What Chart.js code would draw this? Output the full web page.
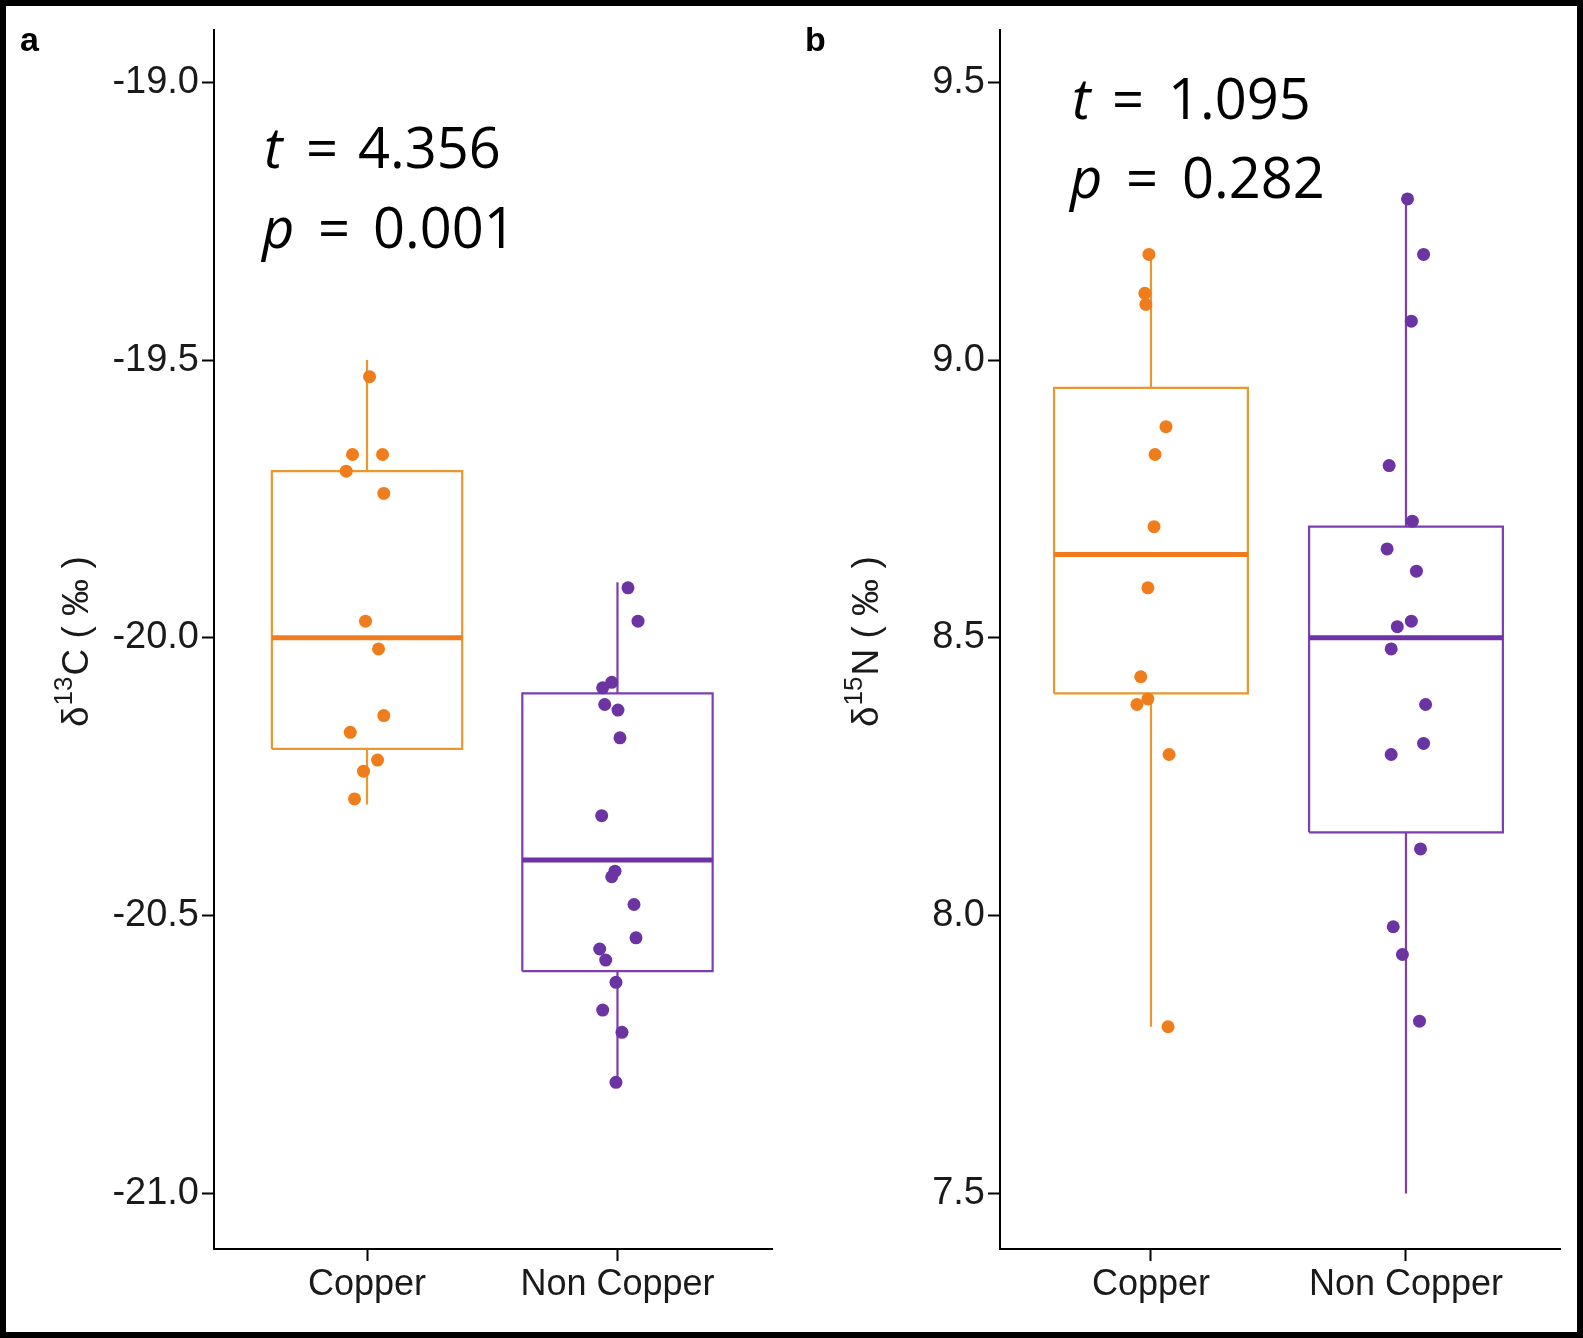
<!DOCTYPE html>
<html>
<head>
<meta charset="utf-8">
<script src="https://cdn.jsdelivr.net/npm/chart.js@4.4.1/dist/chart.umd.min.js"></script>
<style>
  html, body { margin:0; padding:0; background:#fff; }
  #wrap { position:relative; width:1583px; height:1338px; overflow:hidden; background:#fff; }
  canvas { position:absolute; top:0; }
  #frame { position:absolute; left:0; top:0; width:1583px; height:1338px; box-sizing:border-box; border:6px solid #000; pointer-events:none; }
</style>
</head>
<body>
<div id="wrap">
  <canvas id="cA" width="790" height="1338" style="left:0;width:790px;height:1338px"></canvas>
  <canvas id="cB" width="793" height="1338" style="left:790px;width:793px;height:1338px"></canvas>
  <div id="frame"></div>
</div>
<script>
// ---------- data ----------
const categories = ['Copper', 'Non Copper'];

// panel a : δ13C
const c13Ticks = [-21.0, -20.5, -20.0, -19.5, -19.0];
const c13Copper = [-19.53, -19.67, -19.67, -19.70, -19.74, -19.97, -20.02, -20.14, -20.17, -20.22, -20.24, -20.29];
const c13CopperJitter = [0.010, -0.058, 0.062, -0.083, 0.067, -0.006, 0.046, 0.067, -0.067, 0.042, -0.014, -0.050];
const c13NonCopper = [-19.91, -19.97, -20.08, -20.09, -20.12, -20.13, -20.18, -20.32, -20.42, -20.43, -20.48, -20.54, -20.56, -20.58, -20.62, -20.67, -20.71, -20.80];
const c13NonCopperJitter = [0.042, 0.082, -0.023, -0.059, -0.051, 0.002, 0.010, -0.063, -0.010, -0.023, 0.066, 0.074, -0.071, -0.047, -0.006, -0.059, 0.018, -0.006];
// box stats per category: [Copper, Non Copper]
const c13Min    = [-20.30, -20.80];
const c13Q1     = [-20.20, -20.60];
const c13Median = [-20.00, -20.40];
const c13Q3     = [-19.70, -20.10];
const c13Max    = [-19.50, -19.90];

// panel b : δ15N
const n15Ticks = [7.5, 8.0, 8.5, 9.0, 9.5];
const n15Copper = [9.19, 9.12, 9.10, 8.88, 8.83, 8.70, 8.59, 8.43, 8.38, 8.39, 8.29, 7.80];
const n15CopperJitter = [-0.008, -0.024, -0.020, 0.059, 0.016, 0.012, -0.012, -0.040, -0.055, -0.012, 0.071, 0.067];
const n15NonCopper = [9.29, 9.19, 9.07, 8.81, 8.71, 8.66, 8.62, 8.52, 8.53, 8.48, 8.38, 8.31, 8.29, 8.12, 7.98, 7.93, 7.81];
const n15NonCopperJitter = [0.006, 0.069, 0.021, -0.066, 0.025, -0.074, 0.041, -0.034, 0.021, -0.058, 0.077, 0.069, -0.058, 0.057, -0.050, -0.014, 0.053];
const n15Min    = [7.80, 7.50];
const n15Q1     = [8.40, 8.15];
const n15Median = [8.65, 8.50];
const n15Q3     = [8.95, 8.70];
const n15Max    = [9.19, 9.29];

// ---------- styling ----------
const boxColors   = ['#E8982C', '#7D3EAE'];
const medColors   = ['#F07C1E', '#6E32A6'];
const pointColors = ['#F07D1C', '#6C33A3'];
const HALF = 0.38;

function buildDatasets(mins, q1s, meds, q3s, maxs, pts, jits) {
  const ds = [];
  for (let i = 0; i < categories.length; i++) {
    const c = i + 1;
    ds.push({ type:'scatter', showLine:true, order:2, data:[
      {x:c-HALF,y:q1s[i]},{x:c+HALF,y:q1s[i]},{x:c+HALF,y:q3s[i]},{x:c-HALF,y:q3s[i]},{x:c-HALF,y:q1s[i]}],
      borderColor:boxColors[i], borderWidth:2.2, pointRadius:0, fill:false, tension:0 });
    ds.push({ type:'scatter', showLine:true, order:2, data:[{x:c,y:q3s[i]},{x:c,y:maxs[i]}],
      borderColor:boxColors[i], borderWidth:2.2, pointRadius:0 });
    ds.push({ type:'scatter', showLine:true, order:2, data:[{x:c,y:q1s[i]},{x:c,y:mins[i]}],
      borderColor:boxColors[i], borderWidth:2.2, pointRadius:0 });
    ds.push({ type:'scatter', showLine:true, order:1, data:[{x:c-HALF,y:meds[i]},{x:c+HALF,y:meds[i]}],
      borderColor:medColors[i], borderWidth:5, pointRadius:0 });
    ds.push({ type:'scatter', order:0, data: pts[i].map((v,k)=>({x:c+jits[i][k], y:v})),
      backgroundColor:pointColors[i], borderColor:pointColors[i], pointRadius:6.5, borderWidth:0 });
  }
  return ds;
}

const textPlugin = {
  id:'textPlugin',
  afterDraw(chart) {
    const o = chart.options.plugins.textPlugin;
    const ctx = chart.ctx;
    ctx.save();
    ctx.fillStyle = '#000';
    ctx.textBaseline = 'alphabetic';
    // panel letter
    ctx.font = 'bold 34px "Liberation Sans", Arial, sans-serif';
    ctx.textAlign = 'left';
    ctx.fillText(o.letter, o.letterX, 51);
    // stats
    const big = '56px "Open Sans", "Noto Sans", sans-serif';
    const bigI = 'italic 56px "Open Sans", "Noto Sans", sans-serif';
    o.stats.forEach(s => {
      ctx.font = bigI; ctx.fillText(s.v, s.x, s.y);
      ctx.font = big;  ctx.fillText('=', s.x + s.eq, s.y);
      ctx.fillText(s.val, s.x + s.num, s.y);
    });
    // y-axis title with superscript
    ctx.translate(o.titleX, 727);
    ctx.rotate(-Math.PI/2);
    ctx.fillStyle = '#1a1a1a';
    let x = 0;
    ctx.font = '37px "Liberation Sans", Arial, sans-serif';
    ctx.fillText('δ', x, 0); x += ctx.measureText('δ').width + 1;
    ctx.font = '26px "Liberation Sans", Arial, sans-serif';
    ctx.fillText(o.sup, x, -16); x += ctx.measureText(o.sup).width + 1;
    ctx.font = '37px "Liberation Sans", Arial, sans-serif';
    ctx.fillText(o.elem + ' ( ‰ )', x, 0);
    ctx.restore();
  }
};

function makeChart(id, ds, yMin, yMax, yTicks, xMin, xMax, yWidth, padRight, txt) {
  return new Chart(document.getElementById(id), {
    type:'scatter',
    data:{ datasets: ds },
    plugins:[textPlugin],
    options:{
      responsive:false, animation:false, devicePixelRatio:1,
      layout:{ padding:{ left:0, top:30, right:padRight, bottom:0 } },
      plugins:{ legend:{display:false}, tooltip:{enabled:false}, textPlugin: txt },
      scales:{
        x:{ type:'linear', min:xMin, max:xMax,
          afterBuildTicks(s){ s.ticks = categories.map((_,i)=>({value:i+1})); },
          afterFit(s){ s.height = 89; },
          ticks:{ callback:(v)=>categories[Math.round(v)-1], font:{family:'"Liberation Sans", Arial, sans-serif', size:36}, color:'#1a1a1a', padding:2, autoSkip:false, maxRotation:0 },
          grid:{ display:true, drawOnChartArea:false, drawTicks:true, tickLength:12, tickColor:'#000', tickWidth:2 },
          border:{ display:true, color:'#000', width:2 } },
        y:{ type:'linear', min:yMin, max:yMax,
          afterBuildTicks(s){ s.ticks = yTicks.map(v=>({value:v})); },
          afterFit(s){ s.width = yWidth; },
          ticks:{ callback:(v)=>Number(v).toFixed(1), font:{family:'"Liberation Sans", Arial, sans-serif', size:38}, color:'#1a1a1a', padding:3 },
          grid:{ display:true, drawOnChartArea:false, drawTicks:true, tickLength:12, tickColor:'#000', tickWidth:2 },
          border:{ display:true, color:'#000', width:2 } }
      }
    }
  });
}

makeChart('cA',
  buildDatasets(c13Min, c13Q1, c13Median, c13Q3, c13Max, [c13Copper, c13NonCopper], [c13CopperJitter, c13NonCopperJitter]),
  -21.10, -18.906, c13Ticks, 0.389, 2.617, 214, 18,
  { letter:'a', letterX:20, titleX:88, sup:'13', elem:'C',
    stats:[ {v:'t', val:'4.356', x:264, y:168, eq:42, num:94},
            {v:'p', val:'0.001', x:262, y:248, eq:56, num:111} ] });

makeChart('cB',
  buildDatasets(n15Min, n15Q1, n15Median, n15Q3, n15Max, [n15Copper, n15NonCopper], [n15CopperJitter, n15NonCopperJitter]),
  7.40, 9.594, n15Ticks, 0.408, 2.604, 210, 23,
  { letter:'b', letterX:15, titleX:88, sup:'15', elem:'N',
    stats:[ {v:'t', val:'1.095', x:282, y:119, eq:40, num:96},
            {v:'p', val:'0.282', x:280, y:198, eq:56, num:112} ] });
</script>
</body>
</html>
